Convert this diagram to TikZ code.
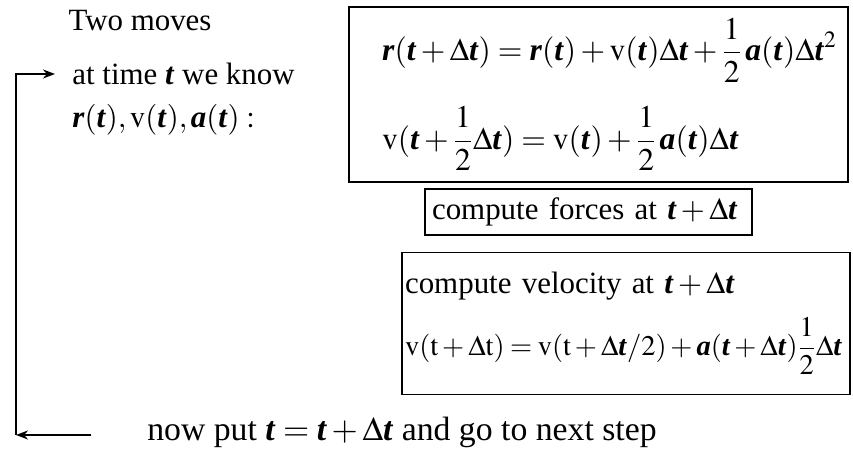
\documentclass[tikz,border=0pt]{standalone}
\usepackage{amsmath}
\usepackage{mathptmx}
\usepackage{fontspec}
\setmainfont{Liberation Serif}
\usetikzlibrary{arrows.meta, positioning, calc}
\newcommand{\slidesize}{\fontsize{17.6}{21}\selectfont}
\newcommand{\bfit}[1]{\textbf{\textit{#1}}}
\newcommand{\tightmath}{\medmuskip = 2.5mu\thickmuskip = 3.5mu}

\begin{document}
\begin{tikzpicture}[
        x = 0.02cm, y = -0.02cm,
        box/.style = {draw, line width = 0.8pt, align = left, font = \slidesize},
        lab/.style = {font = \slidesize, inner sep = 2pt},
        arr/.style = {-{Stealth[length = 2.4mm, width = 1.8mm]}, line width = 1.1pt}
    ]
        \useasboundingbox (0, 0) rectangle (853, 455);

        \node[lab] (moves) at (140, 21) {Two moves};
        \node[lab, anchor = west] (know) at (68.5, 74) {at time \bfit{t} we know};
        \node[lab, below = 0.92cm of know.west, anchor = west] (rva) {$\bfit{r}(\bfit{t}),\mathrm{v}(\bfit{t}),\bfit{a}(\bfit{t}):$};

        \node[box, font = \fontsize{18}{22}\selectfont, text width = 8.66cm, inner xsep = 0.66cm, minimum height = 3.5cm] (upd) at (598.5, 94.5) {
            \mbox{$\displaystyle \bfit{r}(\bfit{t}+\Delta\bfit{t}) = \bfit{r}(\bfit{t}) + \mathrm{v}(\bfit{t})\Delta\bfit{t} + \frac{1}{2}\,\bfit{a}(\bfit{t})\Delta\bfit{t}^{2}$}
            \\[0.45cm]
            \mbox{$\displaystyle \mathrm{v}(\bfit{t}+\frac{1}{2}\Delta\bfit{t}) = \mathrm{v}(\bfit{t}) + \frac{1}{2}\,\bfit{a}(\bfit{t})\Delta\bfit{t}$}
        };

        \node[box, text width = 6.26cm, inner xsep = 0.14cm, minimum height = 0.92cm] (forces) at (588.5, 212) {
            compute forces at $\bfit{t}+\Delta\bfit{t}$
        };

        \node[box, text width = 8.84cm, inner xsep = 0.06cm, minimum height = 2.84cm] (vel) at (626, 323.5) {
            compute velocity at $\bfit{t}+\Delta\bfit{t}$
            \\[0.3cm]
            \mbox{\fontsize{16.2}{20}\selectfont\tightmath$\displaystyle \mathrm{v}(\mathrm{t}+\Delta\mathrm{t}) = \mathrm{v}(\mathrm{t}+\Delta\bfit{t}/2) + \bfit{a}(\bfit{t}+\Delta\bfit{t})\frac{1}{2}\Delta\bfit{t}$}
        };

        \node[lab, font = \fontsize{19.2}{23}\selectfont] (next) at (402, 432) {now put $\bfit{t}=\bfit{t}+\Delta\bfit{t}$ and go to next step};

        \coordinate (turn) at (16, 435);
        \draw[arr, shorten <= 1.04cm] (next.west |- turn) -- (turn);
        \draw[arr, shorten >= 0.27cm] (turn) |- (know.west);
    \end{tikzpicture}
\end{document}
